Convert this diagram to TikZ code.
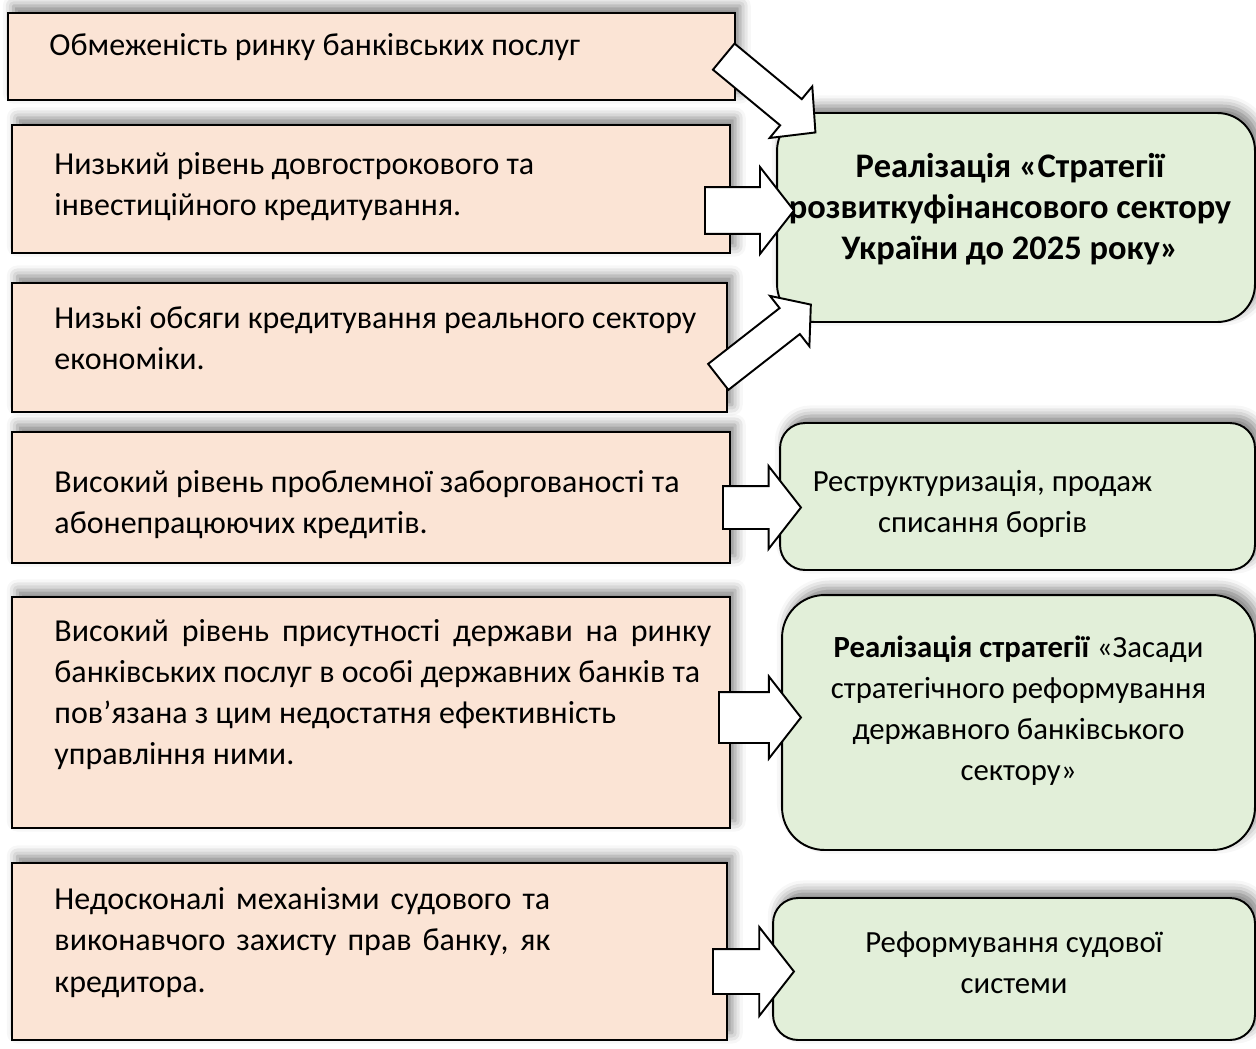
\documentclass[tikz,border=0pt]{standalone}
\usepackage{fontspec}
\setmainfont{Carlito}
\usetikzlibrary{shapes.arrows,shadows.blur}
\definecolor{peach}{RGB}{251,228,213}
\definecolor{sage}{RGB}{226,239,217}
\begin{document}
\begin{tikzpicture}[x=0.02cm,y=-0.02cm,
    problem/.style={draw=black, line width=1.1pt, fill=peach,
      blur shadow={shadow xshift=3pt, shadow yshift=4pt, shadow blur radius=6pt, shadow opacity=50}},
    measure/.style={draw=black, line width=1.1pt, fill=sage,
      blur shadow={shadow xshift=3pt, shadow yshift=4pt, shadow blur radius=6pt, shadow opacity=50}},
    ptext/.style={anchor=west, align=flush left, inner sep=0pt,
      font=\fontsize{18.2}{23.5}\selectfont},
    caption/.style={align=flush center, inner sep=0pt, font=\fontsize{17.5}{23.3}\selectfont},
    blockarr/.style={single arrow, draw=black, line width=1.1pt, fill=white,
      inner xsep=0pt, anchor=tail, single arrow tip angle=104}]
    \useasboundingbox (0,0) rectangle (1256,1048);
    % problems
    \node[problem, minimum width=14.54cm, minimum height=1.74cm] (p1) at (371.5,56.5) {};
    \node[problem, minimum width=14.36cm, minimum height=2.56cm] (p2) at (371,189) {};
    \node[problem, minimum width=14.30cm, minimum height=2.58cm] (p3) at (369.5,347.5) {};
    \node[problem, minimum width=14.36cm, minimum height=2.62cm] (p4) at (371,497.5) {};
    \node[problem, minimum width=14.36cm, minimum height=4.62cm] (p5) at (371,712.5) {};
    \node[problem, minimum width=14.30cm, minimum height=3.54cm] (p6) at (369.5,951.5) {};
    \node[ptext] (t1) at ([xshift=0.84cm,yshift=0.19cm]p1.west)
        {Обмеженість ринку банківських послуг};
    \node[ptext] (t2) at ([xshift=0.86cm,yshift=0.05cm]p2.west)
        {Низький рівень довгострокового та\\інвестиційного кредитування.};
    \node[ptext] (t3) at ([xshift=0.86cm,yshift=0.19cm]p3.west)
        {Низькі обсяги кредитування реального сектору\\економіки.};
    \node[ptext] (t4) at ([xshift=0.86cm,yshift=-0.14cm]p4.west)
        {Високий рівень проблемної заборгованості та\\абонепрацюючих кредитів.};
    \node[ptext] (t5) at ([xshift=0.86cm,yshift=0.36cm]p5.west)
        {\makebox[13.14cm][s]{Високий рівень присутності держави на ринку}\\банківських послуг в особі державних банків та\\пов’язана з цим недостатня ефективність\\управління ними.};
    \node[ptext] (t6) at ([xshift=0.86cm,yshift=0.18cm]p6.west)
        {\makebox[9.92cm][s]{Недосконалі механізми судового та}\\\makebox[9.92cm][s]{виконавчого захисту прав банку, як}\\кредитора.};
    % measures
    \node[measure, rounded corners=0.75cm, minimum width=9.56cm, minimum height=4.18cm]
        (gA) at (1016,217.5) {};
    \node[measure, rounded corners=0.5cm, minimum width=9.5cm, minimum height=2.94cm]
        (gB) at (1017.5,496.5) {};
    \node[measure, rounded corners=0.85cm, minimum width=9.46cm, minimum height=5.1cm]
        (gC) at (1018.5,722.5) {};
    \node[measure, rounded corners=0.5cm, minimum width=9.64cm, minimum height=2.84cm]
        (gD) at (1014,969) {};
    \node[caption, font=\fontsize{19.6}{23.3}\bfseries\selectfont] (tA)
        at ([xshift=-0.12cm,yshift=0.16cm]gA.center)
        {Реалізація «Стратегії\\розвиткуфінансового сектору\\України до 2025 року»};
    \node[caption] (tB) at ([xshift=-0.7cm,yshift=-0.14cm]gB.center)
        {Реструктуризація, продаж\\списання боргів};
    \node[caption] (tC) at ([yshift=0.24cm]gC.center)
        {\textbf{Реалізація стратегії} «Засади\\стратегічного реформування\\державного банківського\\сектору»};
    \node[caption] (tD) at ([yshift=0.13cm]gD.center)
        {Реформування судової\\системи};
    % block arrows
    \node[blockarr, rotate=-39.6, minimum height=2.38cm, inner ysep=0.32cm,
        single arrow head extend=0.33cm, single arrow tip angle=93] (a1) at (723,56) {};
    \node[blockarr, minimum height=1.78cm, inner ysep=0.45cm,
        single arrow head extend=0.4cm] (a2) at (704,210.5) {};
    \node[blockarr, rotate=38, minimum height=2.35cm, inner ysep=0.31cm,
        single arrow head extend=0.31cm, single arrow tip angle=100] (a3) at (717.5,377.5) {};
    \node[blockarr, minimum height=1.56cm, inner ysep=0.41cm,
        single arrow head extend=0.4cm] (a4) at (722,507.5) {};
    \node[blockarr, minimum height=1.64cm, inner ysep=0.49cm,
        single arrow head extend=0.31cm] (a5) at (718,717.5) {};
    \node[blockarr, minimum height=1.62cm, inner ysep=0.43cm,
        single arrow head extend=0.44cm] (a6) at (712,971.5) {};
\end{tikzpicture}
\end{document}
